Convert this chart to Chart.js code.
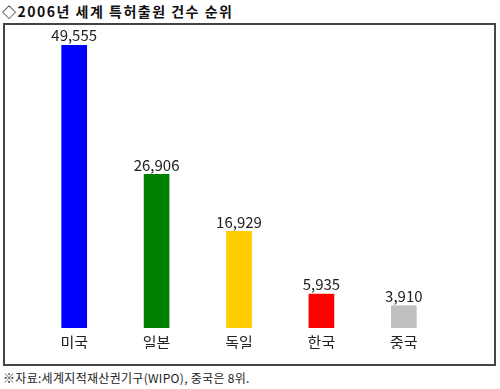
<!DOCTYPE html>
<html>
<head>
<meta charset="utf-8">
<script src="https://cdn.jsdelivr.net/npm/chart.js@4.4.0/dist/chart.umd.min.js"></script>
<style>
  body { margin: 0; background: #fff; width: 500px; height: 389px; position: relative; font-family: "Noto Sans CJK KR", sans-serif; }
  #title { position: absolute; left: 2px; top: 1px; font-size: 14px; font-weight: bold; color: #111; letter-spacing: 1.5px; }
  #box { position: absolute; left: 3px; top: 23px; width: 489px; height: 339px; border: 2px solid #444; }
  #source { position: absolute; left: 3px; top: 369px; font-size: 12px; color: #222; letter-spacing: 0.3px; }
</style>
</head>
<body>
<div id="title">◇2006년 세계 특허출원 건수 순위</div>
<div id="box"><canvas id="myChart" width="489" height="339"></canvas></div>
<div id="source">※자료:세계지적재산권기구(WIPO), 중국은 8위.</div>
<script>
// 국가별 특허출원 건수
const countries = ['미국', '일본', '독일', '한국', '중국'];
const applications = [49555, 26906, 16929, 5935, 3910];
const barColors = ['#0000ff', '#008000', '#ffcc00', '#ff0000', '#c0c0c0'];

// 막대 위에 값 표시
const valueLabels = {
    id: 'valueLabels',
    afterDatasetsDraw(chart) {
        const ctx = chart.ctx;
        const meta = chart.getDatasetMeta(0);
        ctx.save();
        ctx.font = '15px "Noto Sans CJK KR", sans-serif';
        ctx.fillStyle = '#222';
        ctx.textAlign = 'center';
        ctx.textBaseline = 'bottom';
        meta.data.forEach((bar, i) => {
            ctx.fillText(applications[i].toLocaleString('en-US'), bar.x, bar.y - 2);
        });
        ctx.restore();
    }
};

const ctx = document.getElementById('myChart').getContext('2d');
const myChart = new Chart(ctx, {
    type: 'bar',
    data: {
        labels: countries,
        datasets: [{
            data: applications,
            backgroundColor: barColors,
            barThickness: 25
        }]
    },
    options: {
        responsive: false,
        animation: false,
        layout: {
            padding: { top: 20, left: 28, right: 49, bottom: 15 }
        },
        plugins: {
            legend: { display: false },
            tooltip: { enabled: false }
        },
        scales: {
            x: {
                grid: { display: false },
                border: { display: false },
                ticks: {
                    color: '#222',
                    padding: -1,
                    font: { size: 15, lineHeight: 1, family: '"Noto Sans CJK KR", sans-serif' }
                }
            },
            y: {
                display: false,
                min: 0,
                max: 49555
            }
        }
    },
    plugins: [valueLabels]
});
</script>
</body>
</html>
